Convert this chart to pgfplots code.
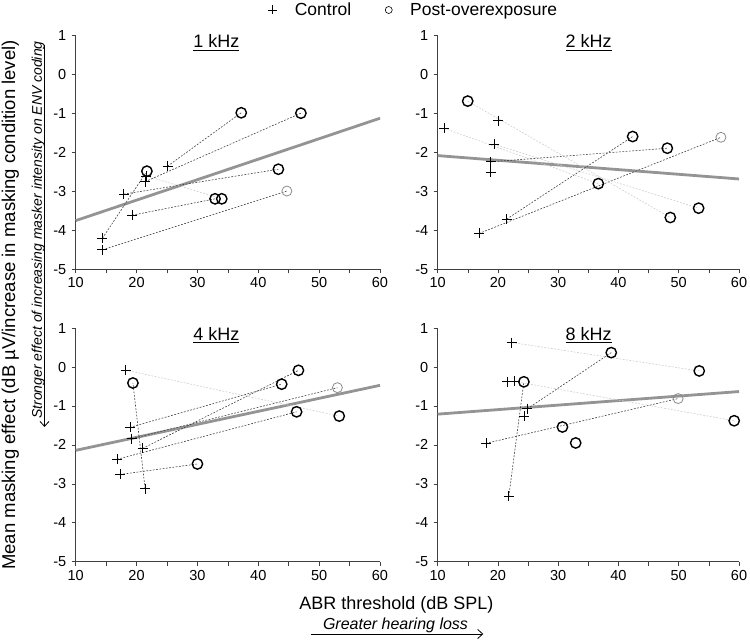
\documentclass[border=0pt]{standalone}
\usepackage{pgfplots}
\pgfplotsset{compat=1.18}
\usepackage{fontspec}
\setmainfont{Liberation Sans}
\usetikzlibrary{arrows.meta}
\newcommand{\ul}[1]{\setbox0\hbox{#1}\leavevmode\rlap{\rule[-2.8pt]{\wd0}{1.1pt}}\box0}
\tikzset{ttl/.style={font=\fontsize{18}{20}\selectfont, anchor=base}}
\pgfplotsset{
  panel/.style={
    scale only axis, width=304.3pt, height=233.6pt,
    xmin=10, xmax=60, ymin=-5, ymax=1,
    axis x line*=bottom, axis y line*=left,
    xtick={10,20,...,60}, minor xtick={15,25,...,55},
    ytick={-5,-4,...,1},
    tick align=outside, major tick length=4pt, minor tick length=4pt,
    tick style={black!75, line width=0.6pt},
    minor tick style={black!75, line width=0.6pt},
    axis line style={black!75, line width=0.7pt},
    tick label style={font=\fontsize{14.5}{16}\selectfont},
    xticklabel style={yshift=-1pt},
    yticklabel style={xshift=-2pt},
    /pgf/number format/assume math mode=true,
    clip=false, anchor=south west,
  },
  ctrl/.style={only marks, mark=+, mark size=5pt, black, line width=0.7pt, forget plot},
  post/.style={only marks, mark=o, mark size=5.2pt, black, line width=1.4pt, forget plot},
  postl/.style={only marks, mark=o, mark size=5pt, black!45, line width=0.8pt, forget plot},
  pair/.style={black!75, line width=0.6pt, dash pattern=on 1.8pt off 1.5pt, forget plot},
  pairl/.style={black!20, line width=0.6pt, dash pattern=on 1.8pt off 1.5pt, forget plot},
  fitl/.style={black!42, line width=2.8pt, forget plot},
}
\begin{document}
\begin{tikzpicture}
\path[use as bounding box] (0,0) rectangle (750pt,642pt);

% ---------- 1 kHz ----------
\begin{axis}[panel, at={(75.7pt,372.7pt)},
  legend style={draw=none, fill=none, at={(axis description cs:1.110,1.110)}, anchor=center,
    legend columns=2, font=\fontsize{17.5}{20}\selectfont,
    /tikz/every odd column/.append style={column sep=16pt},
    /tikz/every even column/.append style={column sep=32pt}}]
\addlegendimage{only marks, mark=+, mark size=4.5pt, black, line width=0.6pt}
\addlegendentry{Control}
\addlegendimage{only marks, mark=o, mark size=3.5pt, black, line width=0.6pt}
\addlegendentry{Post-overexposure}
\addplot[fitl] coordinates {(10,-3.75) (60,-1.12)};
\addplot[pair] coordinates {(25.1,-2.35) (37.2,-0.98)};
\addplot[pair] coordinates {(21.4,-2.75) (47.0,-0.99)};
\addplot[pair] coordinates {(17.9,-3.07) (43.3,-2.43)};
\addplot[pair] coordinates {(14.4,-4.2) (21.7,-2.48)};
\addplot[pair] coordinates {(19.3,-3.61) (32.9,-3.19)};
\addplot[pair] coordinates {(14.4,-4.5) (44.7,-2.99)};
\addplot[pairl] coordinates {(21.6,-2.6) (34.0,-3.19)};
\addplot[ctrl] coordinates {(14.4,-4.2) (14.4,-4.5) (17.9,-3.07) (19.3,-3.61) (21.4,-2.75) (21.6,-2.6) (25.1,-2.35)};
\addplot[post] coordinates {(37.2,-0.98) (47.0,-0.99) (21.7,-2.48) (43.3,-2.43) (32.9,-3.19) (34.0,-3.19)};
\addplot[postl] coordinates {(44.7,-2.99)};
\node[ttl] at (axis cs:33.1,0.684) {\ul{1 kHz}};
\end{axis}

% ---------- 2 kHz ----------
\begin{axis}[panel, at={(437.7pt,372.7pt)}, width=301.3pt]
\addplot[fitl] coordinates {(10,-2.08) (60,-2.68)};
\addplot[pair] coordinates {(16.85,-4.08) (57.0,-1.61)};
\addplot[pair] coordinates {(21.45,-3.71) (42.35,-1.59)};
\addplot[pair] coordinates {(18.8,-2.24) (48.1,-1.89)};
\addplot[pairl] coordinates {(11.1,-1.38) (36.65,-2.8)};
\addplot[pairl] coordinates {(19.35,-1.79) (53.3,-3.43)};
\addplot[pairl] coordinates {(14.98,-0.68) (48.6,-3.67)};
\addplot[ctrl] coordinates {(11.1,-1.38) (20.06,-1.18) (19.35,-1.79) (18.8,-2.24) (18.8,-2.51) (21.45,-3.71) (16.85,-4.08)};
\addplot[post] coordinates {(14.98,-0.68) (42.35,-1.59) (48.1,-1.89) (36.65,-2.8) (48.6,-3.67) (53.3,-3.43)};
\addplot[postl] coordinates {(57.0,-1.61)};
\node[ttl] at (axis cs:35.06,0.684) {\ul{2 kHz}};
\end{axis}

% ---------- 4 kHz ----------
\begin{axis}[panel, at={(75.7pt,80.3pt)}]
\addplot[fitl] coordinates {(10,-2.14) (60,-0.47)};
\addplot[pair] coordinates {(18.9,-1.55) (43.85,-0.44)};
\addplot[pair] coordinates {(19.2,-1.84) (53.0,-0.53)};
\addplot[pair] coordinates {(21.0,-2.09) (46.6,-0.085)};
\addplot[pair] coordinates {(16.8,-2.37) (46.3,-1.15)};
\addplot[pair] coordinates {(17.3,-2.76) (30.0,-2.49)};
\addplot[pair] coordinates {(21.4,-3.12) (19.4,-0.41)};
\addplot[pairl] coordinates {(18.2,-0.08) (53.3,-1.26)};
\addplot[ctrl] coordinates {(18.2,-0.08) (18.9,-1.55) (19.2,-1.84) (21.0,-2.09) (16.8,-2.37) (17.3,-2.76) (21.4,-3.12)};
\addplot[post] coordinates {(19.4,-0.41) (46.6,-0.085) (43.85,-0.44) (46.3,-1.15) (53.3,-1.26) (30.0,-2.49)};
\addplot[postl] coordinates {(53.0,-0.53)};
\node[ttl] at (axis cs:33.1,0.684) {\ul{4 kHz}};
\end{axis}

% ---------- 8 kHz ----------
\begin{axis}[panel, at={(437.7pt,80.3pt)}, width=301.3pt]
\addplot[fitl] coordinates {(10,-1.21) (60,-0.63)};
\addplot[pair] coordinates {(21.8,-3.32) (24.3,-0.38)};
\addplot[pair] coordinates {(24.9,-1.07) (38.8,0.37)};
\addplot[pair] coordinates {(18.0,-1.96) (49.9,-0.81)};
\addplot[pairl] coordinates {(22.3,0.63) (53.4,-0.10)};
\addplot[pairl] coordinates {(22.8,-0.37) (59.2,-1.38)};
\addplot[ctrl] coordinates {(22.3,0.63) (21.55,-0.38) (22.8,-0.37) (24.9,-1.07) (24.3,-1.26) (18.0,-1.96) (21.8,-3.32)};
\addplot[post] coordinates {(24.3,-0.38) (38.8,0.37) (53.4,-0.10) (30.7,-1.54) (32.9,-1.95) (59.2,-1.38)};
\addplot[postl] coordinates {(49.9,-0.81)};
\node[ttl] at (axis cs:35.06,0.684) {\ul{8 kHz}};
\end{axis}

% ---------- outer labels ----------
\node[rotate=90, font=\fontsize{18.5}{20}\selectfont, anchor=base] at (15pt,337pt)
  {Mean masking effect (dB µV/increase in masking condition level)};
\node[rotate=90, font=\fontsize{14}{16}\selectfont\itshape, anchor=base] at (42pt,412pt)
  {Stronger effect of increasing masker intensity on ENV coding};
\draw[line width=0.8pt, -{Straight Barb[length=5pt,width=9pt]}] (44.5pt,597pt) -- (44.5pt,215pt);
\node[font=\fontsize{18}{20}\selectfont, anchor=base] at (396.3pt,32.7pt) {ABR threshold (dB SPL)};
\node[font=\fontsize{16}{18}\selectfont\itshape, anchor=base] at (395.5pt,12.7pt) {Greater hearing loss};
\draw[line width=0.8pt, -{Straight Barb[length=5pt,width=9pt]}] (310.7pt,8pt) -- (483.3pt,8pt);
\end{tikzpicture}
\end{document}
